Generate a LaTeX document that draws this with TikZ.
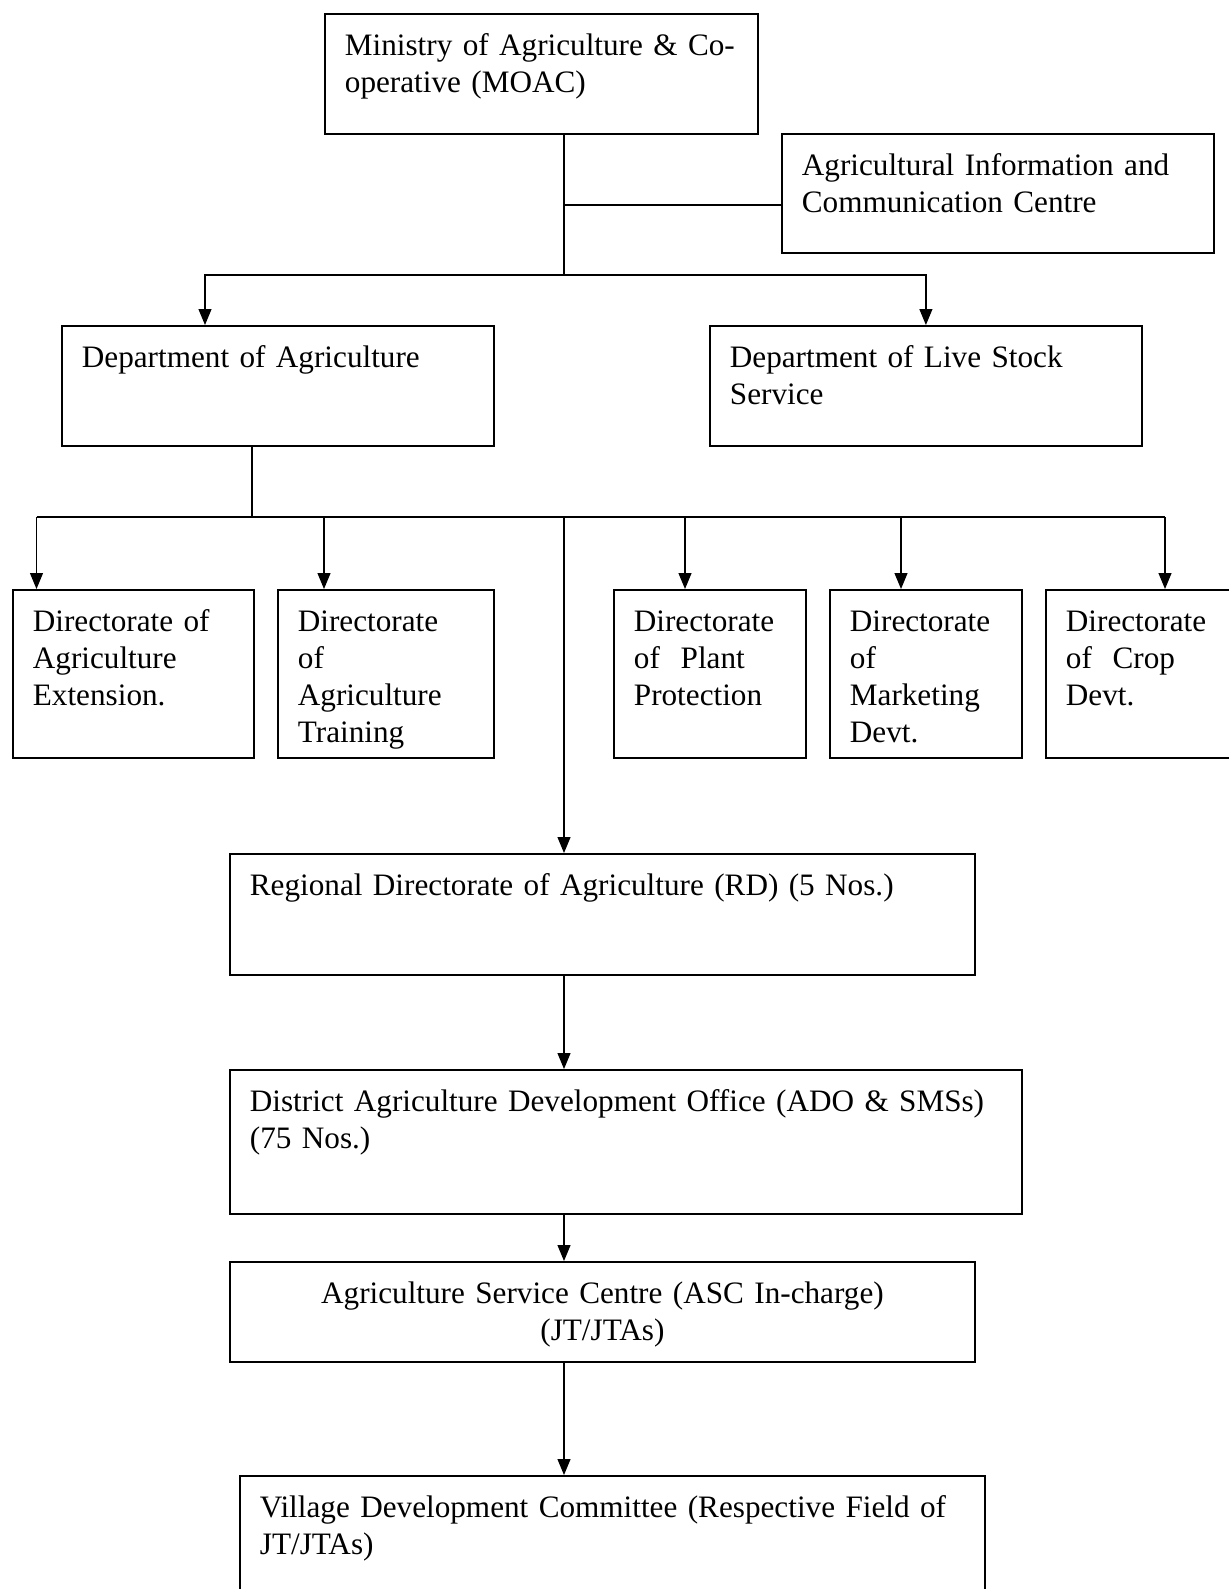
\documentclass[tikz,border=0pt]{standalone}
\usepackage{fontspec}
\setmainfont{Liberation Serif}
\usetikzlibrary{arrows.meta}

\tikzset{
  unit/.style={draw, line width=0.9pt, anchor=north west, inner xsep=10pt, inner ysep=0pt,
    align=left, text height=21pt, font=\fontsize{15.6}{18.5}\selectfont},
  link/.style={line width=0.6pt},
  arr/.style={link, -{Triangle[length=8pt,width=6.5pt]}}
}

\begin{document}
\begin{tikzpicture}[x=0.5pt,y=-0.5pt]
\useasboundingbox (0,0) rectangle (1229,1589);
\clip (0,0) rectangle (1229,1589);

\node[unit, text width=196.5pt, text depth=39pt] (moac) at (324,13) {Ministry of Agriculture \& Co-\\operative (MOAC)};
\node[unit, text width=196pt, text depth=38.5pt] (aicc) at (781,133) {Agricultural Information and\\Communication Centre};
\node[unit, text width=196pt, text depth=39pt] (dagri) at (61,325) {Department of Agriculture};
\node[unit, text width=196pt, text depth=39pt] (dls) at (709,325) {Department of Live Stock\\Service};

\node[unit, text width=100.5pt, text depth=63pt] (d1) at (12,589) {Directorate of\\Agriculture\\Extension.};
\node[unit, text width=88pt, text depth=63pt] (d2) at (277,589) {Directorate\\of\\Agriculture\\Training};
\node[unit, text width=76pt, text depth=63pt] (d3) at (613,589) {Directorate\\of~ Plant\\Protection};
\node[unit, text width=76pt, text depth=63pt] (d4) at (829,589) {Directorate\\of\\Marketing\\Devt.};
\node[unit, text width=80pt, text depth=63pt] (d5) at (1045,589) {Directorate\\of~ Crop\\Devt.};

\node[unit, text width=352.5pt, text depth=39.5pt] (rd) at (229,853) {Regional Directorate of Agriculture (RD) (5 Nos.)};
\node[unit, text width=376pt, text depth=51pt] (dist) at (229,1069) {District Agriculture Development Office (ADO \& SMSs)\\(75 Nos.)};
\node[unit, text width=352.5pt, text depth=29pt, align=center] (asc) at (229,1261) {Agriculture Service Centre (ASC In-charge)\\(JT/JTAs)};
\node[unit, text width=352.5pt, text depth=40pt] (vdc) at (239,1475) {Village Development Committee (Respective Field of\\JT/JTAs)};

\coordinate (j1) at (564,205);
\coordinate (j2) at (564,275);
\coordinate (j3) at (205,275);
\draw[link] (moac.south -| j2) -- (j2);
\draw[link] (j1) -- (aicc.west |- j1);
\draw[arr] (j2) -- (j3) -- (dagri.north -| j3);
\draw[arr] (j2) -| (dls.north);

\coordinate (b1) at (252,517);
\coordinate (bl) at (36.5,517);
\coordinate (br) at (1165,517);
\draw[link] (dagri.south -| b1) -- (b1);
\draw[link] (bl) -- (br);
\foreach \n/\x in {d1/36.5,d2/324,d3/685,d4/901,d5/1165} {
  \coordinate (t\n) at (\x,517);
  \draw[arr] (t\n) -- (t\n |- \n.north);
}

\coordinate (b2) at (564,517);
\draw[arr] (b2) -- (b2 |- rd.north);
\draw[arr] (rd.south -| b2) -- (dist.north -| b2);
\draw[arr] (dist.south -| b2) -- (asc.north -| b2);
\draw[arr] (asc.south -| b2) -- (vdc.north -| b2);
\end{tikzpicture}
\end{document}
